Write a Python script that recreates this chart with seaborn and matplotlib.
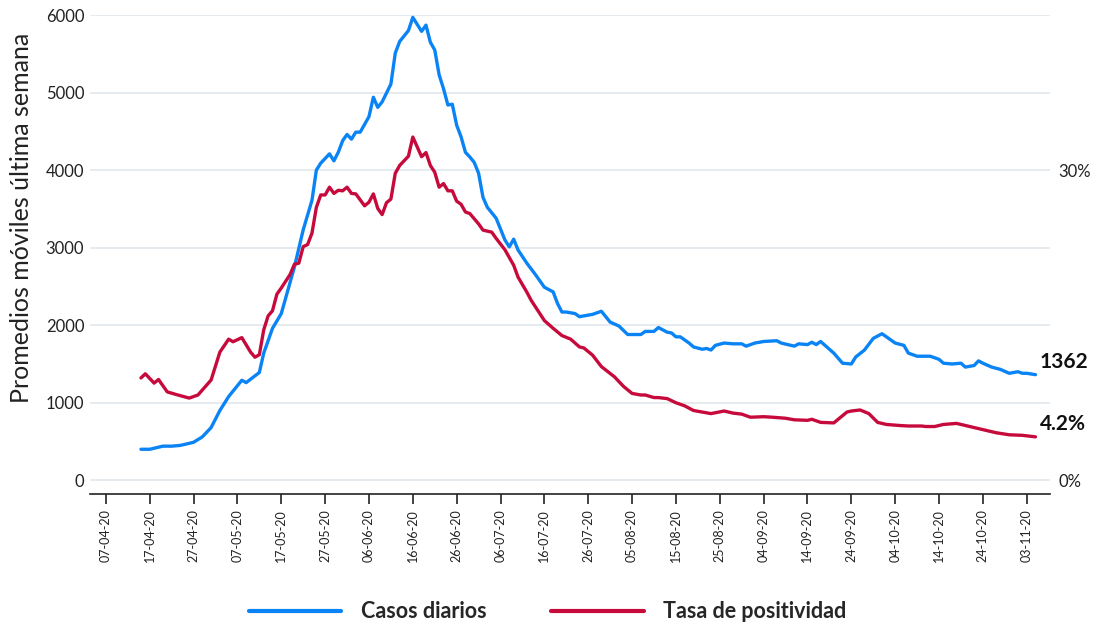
import pandas as pd
import matplotlib
matplotlib.use("Agg")
import matplotlib.pyplot as plt
import matplotlib.dates as mdates
from matplotlib.lines import Line2D
import seaborn as sns

# Casos diarios (promedio movil 7 dias)
casos_fechas = [
    "2020-04-15", "2020-04-17", "2020-04-20", "2020-04-22", "2020-04-24", "2020-04-27",
    "2020-04-29", "2020-05-01", "2020-05-03", "2020-05-05",
    "2020-05-08", "2020-05-09", "2020-05-12", "2020-05-13", "2020-05-15", "2020-05-17",
    "2020-05-18", "2020-05-20", "2020-05-22", "2020-05-24", "2020-05-25", "2020-05-26",
    "2020-05-28", "2020-05-29", "2020-05-30", "2020-05-31", "2020-06-01", "2020-06-02",
    "2020-06-03", "2020-06-04", "2020-06-06", "2020-06-07", "2020-06-08", "2020-06-09",
    "2020-06-11", "2020-06-12", "2020-06-13", "2020-06-15", "2020-06-16", "2020-06-18",
    "2020-06-19", "2020-06-20", "2020-06-21", "2020-06-22", "2020-06-23", "2020-06-24",
    "2020-06-25", "2020-06-26", "2020-06-27", "2020-06-28", "2020-06-29", "2020-06-30",
    "2020-07-01", "2020-07-02", "2020-07-03", "2020-07-05", "2020-07-07", "2020-07-08",
    "2020-07-09", "2020-07-10", "2020-07-12", "2020-07-14", "2020-07-16", "2020-07-18",
    "2020-07-19", "2020-07-20", "2020-07-21", "2020-07-23", "2020-07-24", "2020-07-26",
    "2020-07-27", "2020-07-29", "2020-07-31", "2020-08-02", "2020-08-04", "2020-08-07",
    "2020-08-08", "2020-08-10", "2020-08-11", "2020-08-13", "2020-08-14", "2020-08-15",
    "2020-08-16", "2020-08-18", "2020-08-19", "2020-08-21", "2020-08-22", "2020-08-23",
    "2020-08-24", "2020-08-26", "2020-08-28", "2020-08-30", "2020-08-31", "2020-09-02",
    "2020-09-04", "2020-09-07", "2020-09-08", "2020-09-11", "2020-09-12", "2020-09-14",
    "2020-09-15", "2020-09-16", "2020-09-17", "2020-09-18", "2020-09-20", "2020-09-22",
    "2020-09-24", "2020-09-25", "2020-09-27", "2020-09-29", "2020-10-01", "2020-10-03",
    "2020-10-04", "2020-10-06", "2020-10-07", "2020-10-09", "2020-10-10", "2020-10-12",
    "2020-10-14", "2020-10-15", "2020-10-17", "2020-10-19", "2020-10-20", "2020-10-22",
    "2020-10-23", "2020-10-24", "2020-10-26", "2020-10-28", "2020-10-30", "2020-11-01",
    "2020-11-02", "2020-11-03", "2020-11-05",
]
casos_valores = [
    400, 400, 440, 440, 450, 490,
    560, 680, 900, 1080,
    1290, 1260, 1390, 1640, 1960, 2150,
    2350, 2750, 3230, 3610, 4000, 4090,
    4210, 4120, 4230, 4380, 4460, 4400,
    4490, 4490, 4690, 4940, 4810, 4880,
    5110, 5510, 5660, 5800, 5970, 5790,
    5870, 5650, 5550, 5230, 5050, 4840,
    4850, 4580, 4430, 4230, 4170, 4100,
    3960, 3650, 3520, 3380, 3100, 3010,
    3110, 2970, 2800, 2650, 2490, 2430,
    2280, 2170, 2170, 2150, 2110, 2130,
    2140, 2180, 2040, 1990, 1880, 1880,
    1920, 1920, 1970, 1910, 1900, 1850,
    1850, 1770, 1720, 1690, 1700, 1680,
    1740, 1770, 1760, 1760, 1730, 1770,
    1790, 1800, 1770, 1730, 1760, 1750,
    1780, 1750, 1790, 1740, 1640, 1510,
    1500, 1590, 1680, 1830, 1890, 1810,
    1770, 1740, 1640, 1600, 1600, 1600,
    1560, 1510, 1500, 1510, 1460, 1480,
    1540, 1510, 1460, 1430, 1380, 1400,
    1380, 1380, 1362,
]

# Tasa de positividad (%)
tasa_fechas = [
    "2020-04-15", "2020-04-16", "2020-04-18", "2020-04-19", "2020-04-21", "2020-04-23",
    "2020-04-26", "2020-04-28", "2020-05-01", "2020-05-03", "2020-05-05", "2020-05-06",
    "2020-05-08", "2020-05-10", "2020-05-11", "2020-05-12", "2020-05-13", "2020-05-14",
    "2020-05-15", "2020-05-16", "2020-05-17", "2020-05-19", "2020-05-20", "2020-05-21",
    "2020-05-22", "2020-05-23", "2020-05-24", "2020-05-25", "2020-05-26", "2020-05-27",
    "2020-05-28", "2020-05-29", "2020-05-30", "2020-05-31", "2020-06-01", "2020-06-02",
    "2020-06-03", "2020-06-05", "2020-06-06", "2020-06-07", "2020-06-08", "2020-06-09",
    "2020-06-10", "2020-06-11", "2020-06-12", "2020-06-13", "2020-06-15", "2020-06-16",
    "2020-06-18", "2020-06-19", "2020-06-20", "2020-06-21", "2020-06-22", "2020-06-23",
    "2020-06-24", "2020-06-25", "2020-06-26", "2020-06-27", "2020-06-28", "2020-06-29",
    "2020-07-01", "2020-07-02", "2020-07-04", "2020-07-05", "2020-07-07", "2020-07-09",
    "2020-07-10", "2020-07-12", "2020-07-13", "2020-07-16", "2020-07-18", "2020-07-20",
    "2020-07-22", "2020-07-24", "2020-07-25", "2020-07-27", "2020-07-29", "2020-08-01",
    "2020-08-03", "2020-08-05", "2020-08-07", "2020-08-08", "2020-08-10", "2020-08-11",
    "2020-08-13", "2020-08-15", "2020-08-17", "2020-08-19", "2020-08-21", "2020-08-23",
    "2020-08-26", "2020-08-28", "2020-08-30", "2020-09-01", "2020-09-04", "2020-09-06",
    "2020-09-09", "2020-09-11", "2020-09-14", "2020-09-15", "2020-09-17", "2020-09-20",
    "2020-09-21", "2020-09-23", "2020-09-24", "2020-09-26", "2020-09-28", "2020-09-30",
    "2020-10-02", "2020-10-05", "2020-10-07", "2020-10-10", "2020-10-11", "2020-10-13",
    "2020-10-15", "2020-10-18", "2020-10-21", "2020-10-24", "2020-10-27", "2020-10-30",
    "2020-11-02", "2020-11-05",
]
tasa_valores = [
    9.9, 10.3, 9.4, 9.75, 8.55, 8.3,
    7.95, 8.25, 9.7, 12.4, 13.65, 13.4,
    13.8, 12.4, 11.9, 12.15, 14.55, 15.9,
    16.4, 18.0, 18.6, 19.9, 20.9, 21.0,
    22.6, 22.8, 23.9, 26.4, 27.6, 27.6,
    28.35, 27.75, 28.05, 28.0, 28.35, 27.75,
    27.7, 26.55, 26.9, 27.7, 26.3, 25.7,
    26.85, 27.2, 29.7, 30.45, 31.35, 33.2,
    31.3, 31.7, 30.45, 29.8, 28.35, 28.7,
    28.0, 28.0, 27.0, 26.7, 25.95, 25.8,
    24.8, 24.2, 24.0, 23.4, 22.3, 20.8,
    19.65, 18.2, 17.4, 15.45, 14.7, 14.0,
    13.65, 12.9, 12.8, 12.1, 11.0, 10.0,
    9.1, 8.4, 8.25, 8.25, 8.0, 8.0,
    7.9, 7.5, 7.2, 6.75, 6.6, 6.45,
    6.7, 6.5, 6.4, 6.1, 6.15, 6.1,
    6.0, 5.85, 5.8, 5.9, 5.6, 5.55,
    5.9, 6.6, 6.7, 6.8, 6.45, 5.6,
    5.4, 5.3, 5.25, 5.25, 5.2, 5.2,
    5.4, 5.5, 5.2, 4.9, 4.6, 4.4,
    4.35, 4.2,
]

casos = pd.DataFrame({"fecha": pd.to_datetime(casos_fechas), "valor": casos_valores})
tasa = pd.DataFrame({"fecha": pd.to_datetime(tasa_fechas), "valor": tasa_valores})

azul = "#0a84f5"
rojo = "#c70a3c"
gris = "#e6ebef"

sns.set_theme(style="white")
plt.rcParams["font.family"] = ["Lato", "DejaVu Sans"]

fig = plt.figure(figsize=(10.95, 6.28), dpi=100)
ax = fig.add_axes([0.082, 0.213, 0.877, 0.763])
ax2 = ax.twinx()

sns.lineplot(data=casos, x="fecha", y="valor", ax=ax, color=azul, linewidth=2.4)
sns.lineplot(data=tasa, x="fecha", y="valor", ax=ax2, color=rojo, linewidth=2.4)

# escalas: 30% del eje derecho coincide con 4000 del izquierdo
ax.set_ylim(-180, 6000)
ax2.set_ylim(-180 * 30 / 4000, 6000 * 30 / 4000)
ax.set_xlim(pd.Timestamp("2020-04-03 08:00"), pd.Timestamp("2020-11-08 08:00"))

ax.set_yticks(range(0, 6001, 1000))
ax.yaxis.grid(True, color=gris, linewidth=1.4)
ax.xaxis.grid(False)
ax.tick_params(axis="y", length=0, labelsize=12, pad=4, labelcolor="#222222")

ticks = pd.date_range("2020-04-07", "2020-11-03", freq="10D")
ax.set_xticks(ticks)
ax.xaxis.set_major_formatter(mdates.DateFormatter("%d-%m-%y"))
ax.tick_params(axis="x", direction="out", length=7, width=1.2, color="#222222",
               labelsize=9, labelrotation=90, bottom=True, labelcolor="#222222")

ax.set_xlabel("")
ax.set_ylabel("Promedios móviles última semana", fontsize=18, color="#222222")
ax.yaxis.set_label_coords(-0.059, 0.576)
ax2.set_xlabel("")
ax2.set_ylabel("")
ax2.set_yticks([0, 30])
ax2.set_yticklabels(["0%", "30%"])
ax2.tick_params(axis="y", length=0, labelsize=12, pad=6, labelcolor="#222222")
ax2.grid(False)

for a in (ax, ax2):
    for s in ("top", "left", "right"):
        a.spines[s].set_visible(False)
ax.spines["bottom"].set_color("#222222")
ax.spines["bottom"].set_linewidth(1.2)
ax2.spines["bottom"].set_visible(False)

# etiquetas del ultimo valor
ax.annotate(f"{casos_valores[-1]}", xy=(casos["fecha"].iloc[-1], casos_valores[-1]),
            xytext=(3, 9), textcoords="offset points", va="center", ha="left",
            fontsize=15, fontweight="bold", color="#111111")
ax2.annotate(f"{tasa_valores[-1]}%", xy=(tasa["fecha"].iloc[-1], tasa_valores[-1]),
             xytext=(3, 9), textcoords="offset points", va="center", ha="left",
             fontsize=15, fontweight="bold", color="#111111")

handles = [Line2D([], [], color=azul, linewidth=3),
           Line2D([], [], color=rojo, linewidth=3)]
fig.legend(handles, ["Casos diarios", "Tasa de positividad"], loc="lower center",
           bbox_to_anchor=(0.5, -0.022), ncol=2, frameon=False, handlelength=4.3,
           columnspacing=3.0, handletextpad=0.9,
           prop={"size": 15.5, "weight": "bold"})

fig.savefig("out.png", dpi=100)
